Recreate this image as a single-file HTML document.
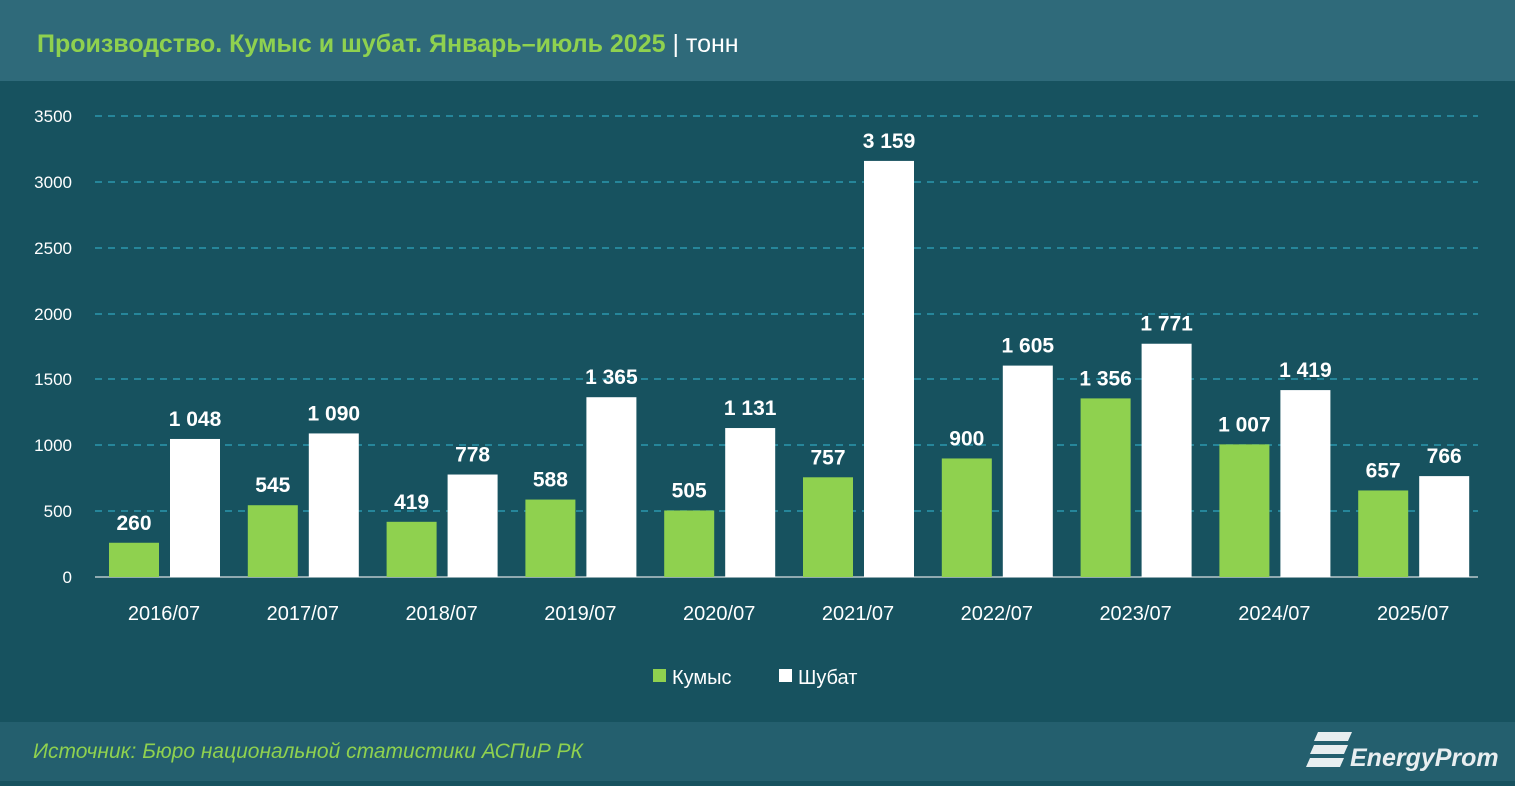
<!DOCTYPE html><html><head><meta charset="utf-8"><style>body{margin:0;width:1515px;height:781px;overflow:hidden;background:#17525f;font-family:"Liberation Sans",sans-serif}</style></head><body>
<svg width="1515" height="781" xmlns="http://www.w3.org/2000/svg" font-family="Liberation Sans, sans-serif">
<rect width="1515" height="781" fill="#17525f"/>
<rect width="1515" height="81" fill="#2f6a7a"/>
<text x="37" y="52" font-size="25" font-weight="bold" fill="#8fd14f">Производство. Кумыс и шубат. Январь–июль 2025 <tspan fill="#fff" font-weight="normal">| тонн</tspan></text>
<rect y="722" width="1515" height="59" fill="#245f6e"/>
<text x="33" y="758" font-size="21" font-style="italic" fill="#8fd14f">Источник: Бюро национальной статистики АСПиР РК</text>
<g fill="#e8eef0"><path d="M1318 732h34l-4 9h-34z M1314 745h34l-4 9h-34z M1310 758h34l-4 9h-34z"/></g>
<text x="1350" y="766" font-size="25" font-style="italic" font-weight="bold" fill="#e8eef0">EnergyProm</text>
<g stroke="#2b98ad" stroke-width="1.5" stroke-dasharray="7,6">
<line x1="95" x2="1478" y1="116" y2="116"/><line x1="95" x2="1478" y1="182" y2="182"/><line x1="95" x2="1478" y1="248" y2="248"/><line x1="95" x2="1478" y1="314" y2="314"/><line x1="95" x2="1478" y1="379" y2="379"/><line x1="95" x2="1478" y1="445" y2="445"/><line x1="95" x2="1478" y1="511" y2="511"/></g>
<line x1="95" x2="1478" y1="577" y2="577" stroke="#b8c8cc" stroke-width="1.5"/>
<g fill="#fff" font-size="17" text-anchor="end">
<text x="72" y="122">3500</text><text x="72" y="188">3000</text><text x="72" y="254">2500</text><text x="72" y="320">2000</text><text x="72" y="385">1500</text><text x="72" y="451">1000</text><text x="72" y="517">500</text><text x="72" y="583">0</text></g>
<g id="bars"></g>
<g fill="#fff" font-size="20" text-anchor="middle" id="xl"></g>
<rect x="653" y="669" width="13" height="13" fill="#8fd14f"/><text x="672" y="684" fill="#fff" font-size="20">Кумыс</text>
<rect x="779" y="669" width="13" height="13" fill="#fff"/><text x="798" y="684" fill="#fff" font-size="20">Шубат</text>
<script>
var k=[260,545,419,588,505,757,900,1356,1007,657],s=[1048,1090,778,1365,1131,3159,1605,1771,1419,766];
var ns="http://www.w3.org/2000/svg",b=document.getElementById('bars'),xl=document.getElementById('xl');
function el(t,a,p,txt){var e=document.createElementNS(ns,t);for(var q in a)e.setAttribute(q,a[q]);if(txt)e.textContent=txt;p.appendChild(e);}
function f(v){return v>=1000?Math.floor(v/1000)+' '+String(v%1000).padStart(3,'0'):String(v);}
for(var i=0;i<10;i++){var x=109+138.8*i;
[[k[i],x,'#8fd14f'],[s[i],x+61,'#ffffff']].forEach(function(d){var h=d[0]*461/3500;
el('rect',{x:d[1],y:577-h,width:50,height:h,fill:d[2]},b);
el('text',{x:d[1]+25,y:577-h-13,fill:'#fff','font-size':21,'font-weight':'bold','text-anchor':'middle'},b,f(d[0]));});
el('text',{x:x+55,y:620},xl,(2016+i)+'/07');}
</script>
</svg></body></html>
